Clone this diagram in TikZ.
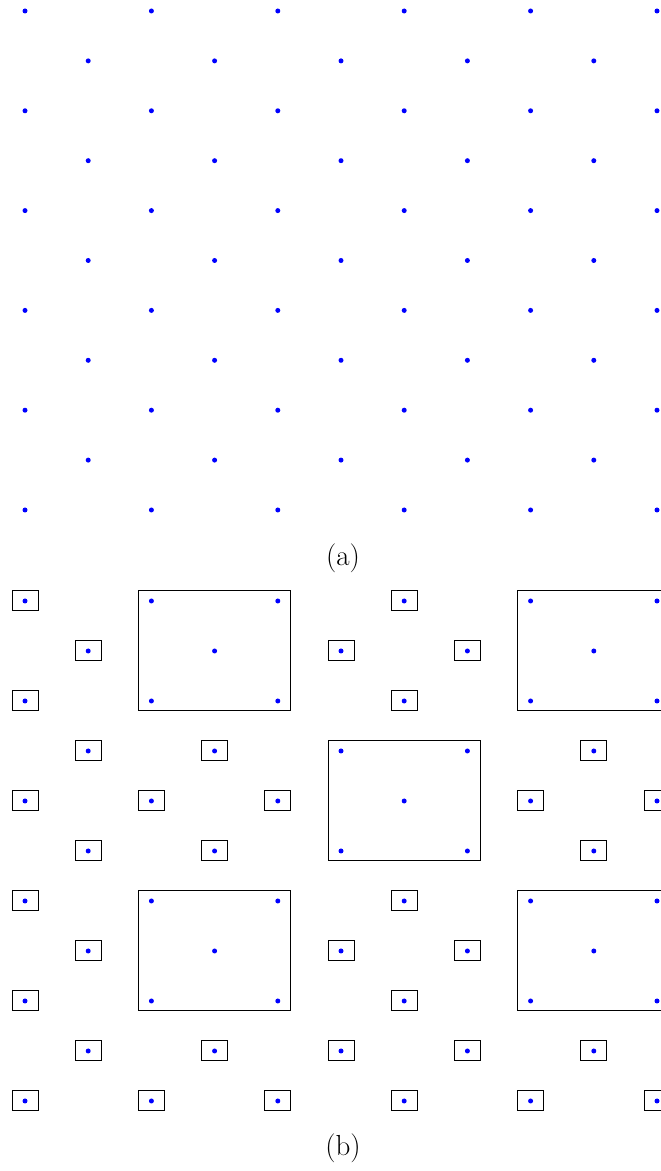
\documentclass[tikz,border=0pt]{standalone}
\usepackage{tikz}
\tikzset{
    dot/.style={circle,fill=blue,inner sep=0pt,minimum size=5pt},
    smallbox/.style={draw,line width=1pt,inner sep=0pt,minimum width=26pt,minimum height=20pt},
    bigbox/.style={draw,line width=1pt,inner sep=0pt,minimum width=152pt,minimum height=120pt},
    caption/.style={font=\fontsize{29}{34}\selectfont}
}
\begin{document}
\begin{tikzpicture}[x=1pt,y=1pt]
        \useasboundingbox (0,0) rectangle (661,1171);
        \clip (0,0) rectangle (661,1171);
        % lattice (a)
        \foreach \r in {0,2,...,10} {
            \foreach \c in {0,...,5} {
                \node[dot] (a-\r-\c) at ({25+126.4*\c},{1160-49.9*\r}) {};
            }
        }
        \foreach \r in {1,3,...,9} {
            \foreach \c in {0,...,4} {
                \node[dot] (a-\r-\c) at ({88.2+126.4*\c},{1160-49.9*\r}) {};
            }
        }
        \node[caption] (cap-a) at (343,613) {(a)};
        % lattice (b)
        \foreach \r in {0,2,...,10} {
            \foreach \c in {0,...,5} {
                \node[dot] (b-\r-\c) at ({25+126.4*\c},{570-50*\r}) {};
            }
        }
        \foreach \r in {1,3,...,9} {
            \foreach \c in {0,...,4} {
                \node[dot] (b-\r-\c) at ({88.2+126.4*\c},{570-50*\r}) {};
            }
        }
        % big boxes
        \foreach \r/\c in {1/1,1/4,4/3,7/1,7/4} {
            \node[bigbox] (big-\r-\c) at (b-\r-\c) {};
        }
        % small boxes
        \foreach \r/\c in {0/0,0/3,1/0,1/2,1/3,2/0,2/3,3/0,3/1,3/4,
                4/0,4/1,4/2,4/4,4/5,5/0,5/1,5/4,6/0,6/3,7/0,7/2,7/3,8/0,8/3,
                9/0,9/1,9/2,9/3,9/4,10/0,10/1,10/2,10/3,10/4,10/5} {
            \node[smallbox] (box-\r-\c) at (b-\r-\c) {};
        }
        \node[caption] (cap-b) at (343,23) {(b)};
    \end{tikzpicture}
\end{document}
